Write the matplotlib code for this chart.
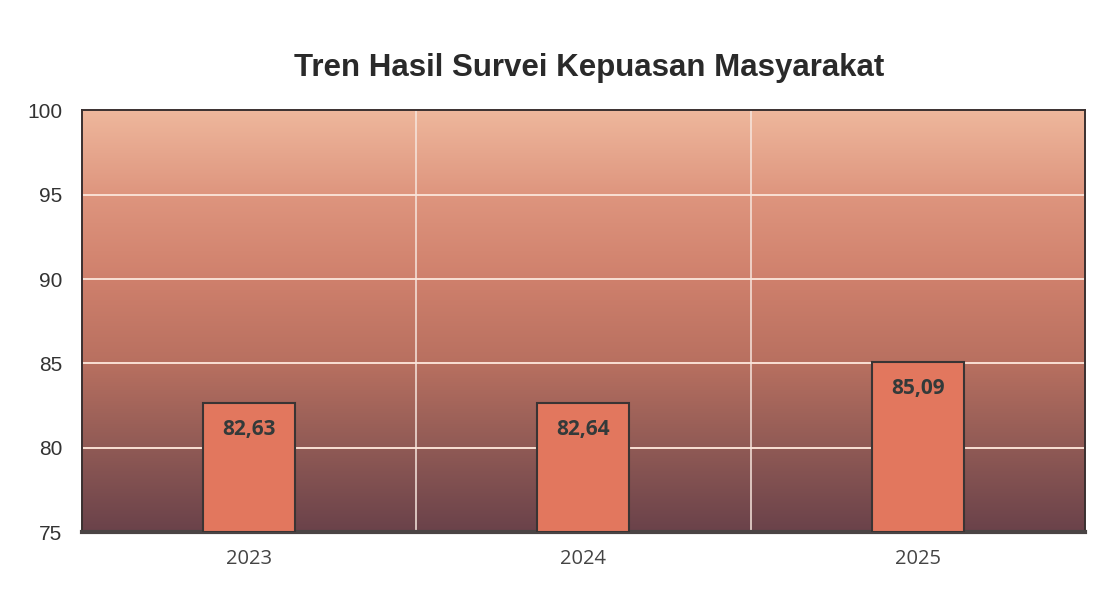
import numpy as np
import matplotlib.pyplot as plt
from matplotlib.colors import LinearSegmentedColormap

# data
years = ['2023', '2024', '2025']
scores = [82.63, 82.64, 85.09]
y_min, y_max = 75, 100

fig = plt.figure(figsize=(11.07, 5.96), dpi=100)
fig.patch.set_facecolor('white')
ax = fig.add_axes([0.074, 0.107, 0.906, 0.708])

x = np.arange(len(years))

# background gradient (bottom dark -> top light salmon)
cmap = LinearSegmentedColormap.from_list(
    'bg', ['#6a424a', '#905a55', '#b87060', '#cf806c', '#de957e', '#eeb79c'])
grad = np.linspace(0, 1, 256).reshape(-1, 1)
ax.imshow(grad, aspect='auto', cmap=cmap, origin='lower',
          extent=(-0.5, len(years) - 0.5, y_min, y_max), zorder=0)

# grid
for yv in range(80, 100, 5):
    ax.axhline(yv, color='#f9e0d4', lw=1.4, zorder=1)
for xv in [0.5, 1.5]:
    ax.axvline(xv, color='#f7e6de', lw=1.1, zorder=1)

bars = ax.bar(x, [s - y_min for s in scores], bottom=y_min, width=0.275,
              color='#e2775e', edgecolor='#3a3434', linewidth=1.5, zorder=3)

for xi, s in zip(x, scores):
    ax.text(xi, s - 0.95, f'{s:.2f}'.replace('.', ','), ha='center', va='top',
            fontsize=15, fontweight='bold', color='#333a3a',
            family='Open Sans', zorder=4)

ax.set_xlim(-0.5, len(years) - 0.5)
ax.set_ylim(y_min, y_max)
ax.set_yticks(range(75, 101, 5))
ax.set_xticks(x)
ax.set_xticklabels(years, fontsize=14.5, color='#444444', family='Open Sans')
for lab in ax.get_yticklabels():
    lab.set_fontsize(15)
    lab.set_color('#333333')
    lab.set_family('Liberation Sans')
ax.tick_params(length=0, pad=14)
ax.tick_params(axis='x', pad=12)

for side in ['left', 'top', 'right']:
    ax.spines[side].set_color('#3a3030')
    ax.spines[side].set_linewidth(1.4)
ax.spines['bottom'].set_color('#4a4444')
ax.spines['bottom'].set_linewidth(3)

fig.text(0.532, 0.886, 'Tren Hasil Survei Kepuasan Masyarakat', ha='center',
         va='center', fontsize=22.5, fontweight='bold', color='#2a2a2a',
         family='Liberation Sans')

plt.savefig('out.png', dpi=100)
